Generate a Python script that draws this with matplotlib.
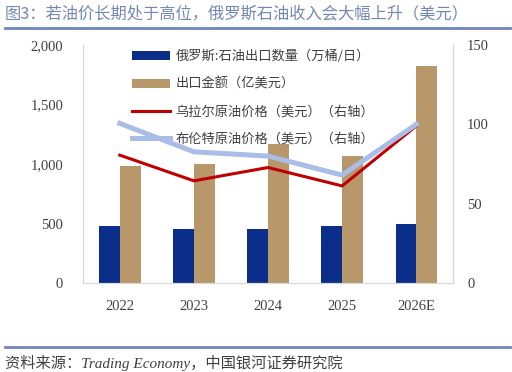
import numpy as np
import matplotlib.pyplot as plt
from matplotlib.lines import Line2D

plt.rcParams['font.family'] = ['Liberation Serif', 'Noto Sans CJK SC', 'DejaVu Sans']

# data
years = ['2022', '2023', '2024', '2025', '2026E']
export_volume = [476, 456, 450, 476, 496]      # 万桶/日
export_value = [980, 1000, 1165, 1067, 1826]    # 亿美元
urals_price = [80.6, 64.4, 72.8, 61.2, 99]
brent_price = [100.6, 82.7, 80, 68, 100]

c_blue = '#0B2E8A'
c_gold = '#B8976A'
c_red = '#C00000'
c_light = '#A9BDE6'
c_text = '#404040'
c_spine = '#D9D9D9'

fig = plt.figure(figsize=(5.12, 3.72), dpi=100)
ax = fig.add_axes([0.1615, 0.2392, 0.7239, 0.6398])
ax2 = ax.twinx()

x = np.arange(len(years))
w = 0.28
ax.bar(x - w / 2, export_volume, w, color=c_blue, label='俄罗斯:石油出口数量（万桶/日）', zorder=2)
ax.bar(x + w / 2, export_value, w, color=c_gold, label='出口金额（亿美元）', zorder=2)

ax2.plot(x, urals_price, color=c_red, lw=2.2, label='乌拉尔原油价格（美元）（右轴）', zorder=3)
ax2.plot(x, brent_price, color=c_light, lw=3.6, label='布伦特原油价格（美元）（右轴）', zorder=3)

ax.set_xlim(-0.5, len(years) - 0.5)
ax.set_ylim(0, 2000)
ax.set_yticks([0, 500, 1000, 1500, 2000])
ax.set_yticklabels(['0', '500', '1,000', '1,500', '2,000'])
ax2.set_ylim(0, 150)
ax2.set_yticks([0, 50, 100, 150])
ax.set_xticks(x)
ax.set_xticklabels(years)

for a in (ax, ax2):
    a.tick_params(length=0, labelsize=10.5, colors=c_text)
    a.spines['top'].set_visible(False)
    for s in ('left', 'right', 'bottom'):
        a.spines[s].set_color(c_spine)
ax.tick_params(axis='x', pad=12)
ax.tick_params(axis='y', pad=14)
ax2.tick_params(axis='y', pad=10)

h1, l1 = ax.get_legend_handles_labels()
h2, l2 = ax2.get_legend_handles_labels()
leg = ax2.legend(h1 + h2, l1 + l2, loc='upper left', bbox_to_anchor=(0.258, 0.866),
                 bbox_transform=fig.transFigure, frameon=False,
                 prop={'family': ['Noto Sans CJK SC'], 'size': 9.5},
                 handlelength=2.9, handletextpad=0.4, labelspacing=1.1,
                 borderaxespad=0, borderpad=0)
for t in leg.get_texts():
    t.set_color(c_text)

# title and source
fig.text(0.01, 0.963, '图3：若油价长期处于高位，俄罗斯石油收入会大幅上升（美元）',
         fontsize=11.7, color='#7487B3', va='center', ha='left',
         family=['Noto Sans CJK SC'])
fig.add_artist(Line2D([0.01, 0.997], [0.925, 0.925], color='#6F86BD', lw=2))
fig.add_artist(Line2D([0.01, 0.997], [0.068, 0.068], color='#6F86BD', lw=2))
fig.text(0.01, 0.025, '资料来源：Trading Economy，中国银河证券研究院',
         fontsize=11, color=c_text, style='italic', va='center', ha='left')

fig.savefig('out.png', dpi=100)
